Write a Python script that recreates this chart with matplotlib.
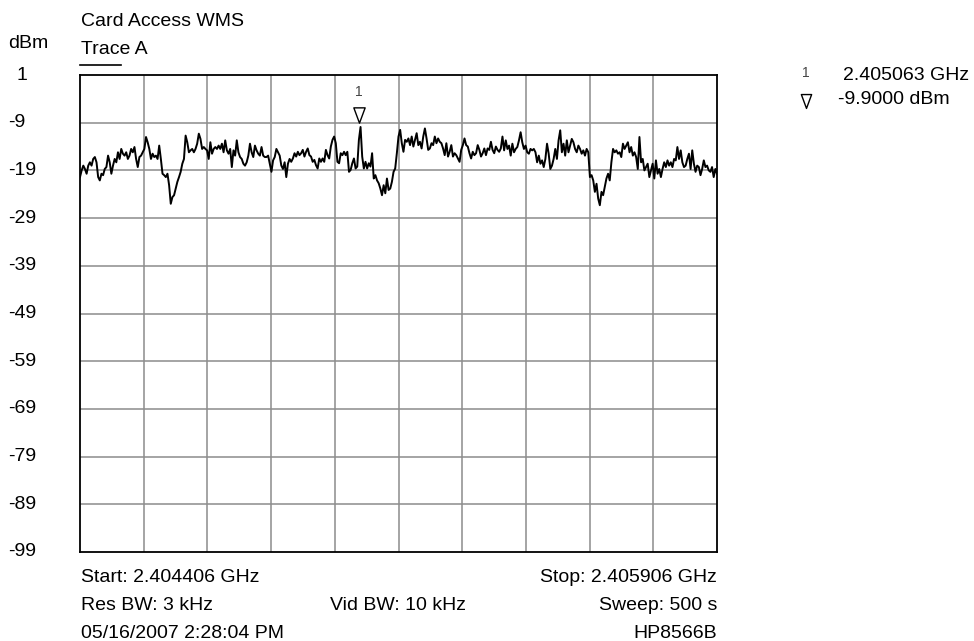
import numpy as np
import matplotlib as mpl
mpl.use('Agg')
import matplotlib.pyplot as plt
from matplotlib.path import Path
from matplotlib.lines import Line2D
from matplotlib.transforms import offset_copy

plt.rcParams['font.family'] = ['Liberation Sans', 'DejaVu Sans']

# sweep settings
START_GHZ = 2.404406
STOP_GHZ = 2.405906
REF_DBM = 1
BOTTOM_DBM = -99
MARKER_GHZ = 2.405063
MARKER_DBM = -9.9

y_ticks = [1, -9, -19, -29, -39, -49, -59, -69, -79, -89, -99]

# trace A (dBm, evenly spaced across the sweep)
trace_dbm = [
    -20.4, -19.0, -18.0, -18.7, -19.7, -18.0, -17.3, -18.0, -16.6, -16.2,
    -17.3, -20.4, -21.1, -19.7, -20.0, -18.7, -18.3, -15.9, -17.3, -19.7,
    -18.0, -16.6, -17.3, -15.2, -16.6, -14.5, -15.5, -15.9, -15.2, -16.6,
    -15.9, -14.5, -15.2, -14.1, -16.6, -18.3, -16.2, -15.9, -15.2, -14.5,
    -12.0, -13.1, -14.5, -16.6, -15.5, -16.2, -15.9, -16.6, -13.8, -16.6,
    -19.7, -20.0, -20.4, -19.7, -22.1, -26.0, -24.6, -24.2, -22.8, -21.4,
    -20.4, -19.3, -17.6, -16.6, -11.7, -13.1, -15.2, -14.8, -14.5, -15.2,
    -14.5, -13.4, -11.3, -12.4, -14.5, -14.1, -14.5, -14.8, -16.6, -13.1,
    -15.5, -14.5, -14.1, -14.5, -13.8, -14.5, -13.4, -15.2, -12.7, -14.8,
    -15.5, -14.5, -18.3, -14.8, -15.9, -12.7, -15.2, -16.2, -16.6, -17.6,
    -18.0, -17.3, -15.9, -13.4, -15.2, -16.2, -13.8, -14.8, -15.5, -15.9,
    -14.1, -15.9, -16.2, -16.2, -15.9, -17.6, -19.3, -16.9, -16.2, -14.5,
    -15.2, -15.9, -18.0, -18.7, -17.3, -20.4, -17.6, -16.6,
    -17.2, -16.5, -15.4, -16.1, -15.1, -15.8, -15.4, -14.7, -16.1, -15.1,
    -14.4, -15.8, -16.1, -17.2, -16.8, -17.9, -18.6, -16.5, -17.2, -16.5,
    -17.2, -14.7, -15.8, -16.5, -14.0, -12.6, -11.9, -13.3, -17.2, -17.5,
    -15.4, -15.8, -15.1, -15.8, -15.1, -19.3, -18.9, -17.5, -16.5, -18.6,
    -18.2, -12.6, -9.9, -16.1, -18.6, -17.2, -18.6, -17.5, -18.2, -15.4,
    -20.7, -20.0, -21.1, -21.7, -22.8, -24.2, -22.1, -23.8, -20.7, -23.1,
    -22.8, -21.4, -19.3, -18.6, -15.4, -11.9, -10.5, -13.3, -15.1, -12.6,
    -13.0, -12.3, -13.7, -11.9, -14.0, -12.6, -11.2, -13.7, -13.0, -14.4,
    -11.9, -10.2, -12.3, -14.7, -14.4, -13.3, -13.7, -11.9, -13.3, -12.3,
    -13.0, -13.3, -14.4, -15.8, -13.3, -16.1, -15.1, -13.7, -16.1, -15.4,
    -15.8, -16.5, -17.2, -14.7, -13.7, -12.3, -13.7, -14.0, -15.4, -16.5,
    -15.1, -15.8, -15.4, -13.7, -14.7, -16.1, -15.4, -14.4, -15.8, -14.4,
    -14.7, -13.0, -14.7, -15.4, -14.0, -14.7, -15.1, -14.4, -11.9,
    -14.8, -12.7, -14.5, -13.8, -15.9, -13.4, -15.2, -14.5, -14.1, -12.7,
    -11.0, -13.1, -14.5, -13.8, -15.2, -15.5, -14.5, -14.8, -14.5, -15.2,
    -17.3, -15.9, -17.6, -16.9, -18.3, -16.6, -13.4, -15.5, -18.7, -18.0,
    -16.6, -14.5, -16.6, -12.7, -10.6, -15.2, -13.4, -15.9, -12.7, -15.2,
    -13.8, -12.4, -13.1, -14.5, -15.2, -13.8, -14.5, -15.5, -14.8, -15.9,
    -14.5, -15.2, -20.4, -20.0, -21.1, -23.5, -21.8, -24.9, -26.3, -23.5,
    -24.2, -22.5, -20.7, -19.7, -21.1, -17.3, -14.5, -15.2, -14.8, -15.5,
    -15.2, -16.2, -13.4, -14.5, -13.8, -13.1, -15.2, -14.1, -15.9, -15.2,
    -16.2, -18.7, -12.0, -17.3, -16.6, -19.0, -18.3, -17.6, -20.4, -19.0,
    -17.6, -20.7, -16.9, -19.7, -18.7, -20.4, -18.7, -17.3, -18.3, -16.9,
    -18.0, -17.3, -18.3, -16.6, -16.9, -14.1, -16.6, -14.8, -17.3, -18.3,
    -18.0, -16.6, -15.5, -18.7, -14.8, -17.6, -19.3, -18.0, -18.3, -20.0,
    -18.7, -16.9, -18.3, -18.0, -19.0, -19.3, -18.3, -20.4, -18.7, -19.7,
]
freq_ghz = np.linspace(START_GHZ, STOP_GHZ, len(trace_dbm))

W, H = 974, 641
AX_L, AX_R, AX_T, AX_B = 80, 717, 75, 552


def fx(x):
    return x / W


def fy(y):
    return 1 - y / H


fig = plt.figure(figsize=(W / 100, H / 100), dpi=100)
ax = fig.add_axes([fx(AX_L), fy(AX_B), (AX_R - AX_L) / W, (AX_B - AX_T) / H])
ax.set_xlim(START_GHZ, STOP_GHZ)
ax.set_ylim(BOTTOM_DBM, REF_DBM)

# 10 x 10 graticule
for f in np.linspace(START_GHZ, STOP_GHZ, 11)[1:-1]:
    ax.axvline(f, color='#8c8c8c', lw=1.1, zorder=1)
for v in y_ticks[1:-1]:
    ax.axhline(v, color='#8c8c8c', lw=1.1, zorder=1)
ax.set_xticks([])
ax.set_yticks([])
for s in ax.spines.values():
    s.set_linewidth(1.3)
    s.set_color('black')

ax.plot(freq_ghz, trace_dbm, color='black', lw=1.4, zorder=3)

# marker 1 (open triangle pointing down onto the peak)
tri = Path([(-0.37, 0.5), (0.37, 0.5), (0, -0.5), (-0.37, 0.5)],
           [Path.MOVETO, Path.LINETO, Path.LINETO, Path.CLOSEPOLY])
tr = offset_copy(ax.transData, fig=fig, x=0, y=8.5, units='points')
ax.plot([MARKER_GHZ], [MARKER_DBM], marker=tri, ms=11, mfc='white',
        mec='black', mew=1.0, transform=tr, zorder=4, clip_on=False)
tr1 = offset_copy(ax.transData, fig=fig, x=0, y=25, units='points')
ax.text(MARKER_GHZ, MARKER_DBM, '1', transform=tr1, ha='center', va='center',
        fontsize=10, color='#444444')

# y labels, left-aligned at the figure edge
for v in y_ticks:
    xpos = fx(17) if v > 0 else fx(8)
    ypix = AX_T + (REF_DBM - v) * (AX_B - AX_T) / (REF_DBM - BOTTOM_DBM)
    fig.text(xpos, fy(ypix), str(v), ha='left', va='center', fontsize=14)

fig.text(fx(8), fy(43), 'dBm', ha='left', va='center', fontsize=14)
fig.text(fx(81), fy(22), 'Card Access WMS', ha='left', va='center', fontsize=14)
fig.text(fx(81), fy(50), 'Trace A', ha='left', va='center', fontsize=14)
fig.add_artist(Line2D([fx(80), fx(121)], [fy(65), fy(65)], color='black', lw=1.2))

# footer
fig.text(fx(81), fy(577), 'Start: 2.404406 GHz', ha='left', va='center', fontsize=14)
fig.text(fx(81), fy(606), 'Res BW: 3 kHz', ha='left', va='center', fontsize=14)
fig.text(fx(81), fy(633), '05/16/2007 2:28:04 PM', ha='left', va='center', fontsize=14)
fig.text(fx(398.5), fy(606), 'Vid BW: 10 kHz', ha='center', va='center', fontsize=14)
fig.text(fx(717), fy(577), 'Stop: 2.405906 GHz', ha='right', va='center', fontsize=14)
fig.text(fx(717), fy(606), 'Sweep: 500 s', ha='right', va='center', fontsize=14)
fig.text(fx(717), fy(633), 'HP8566B', ha='right', va='center', fontsize=14)

# marker readout
fig.text(fx(806), fy(73), '1', ha='center', va='center', fontsize=10, color='#444444')
fig.text(fx(843), fy(76), '2.405063 GHz', ha='left', va='center', fontsize=14)
fig.add_artist(Line2D([fx(806)], [fy(101)], marker=tri, ms=10, mfc='white',
                      mec='black', mew=1.0))
fig.text(fx(838), fy(99), '-9.9000 dBm', ha='left', va='center', fontsize=14)

fig.savefig('out.png', dpi=100)
